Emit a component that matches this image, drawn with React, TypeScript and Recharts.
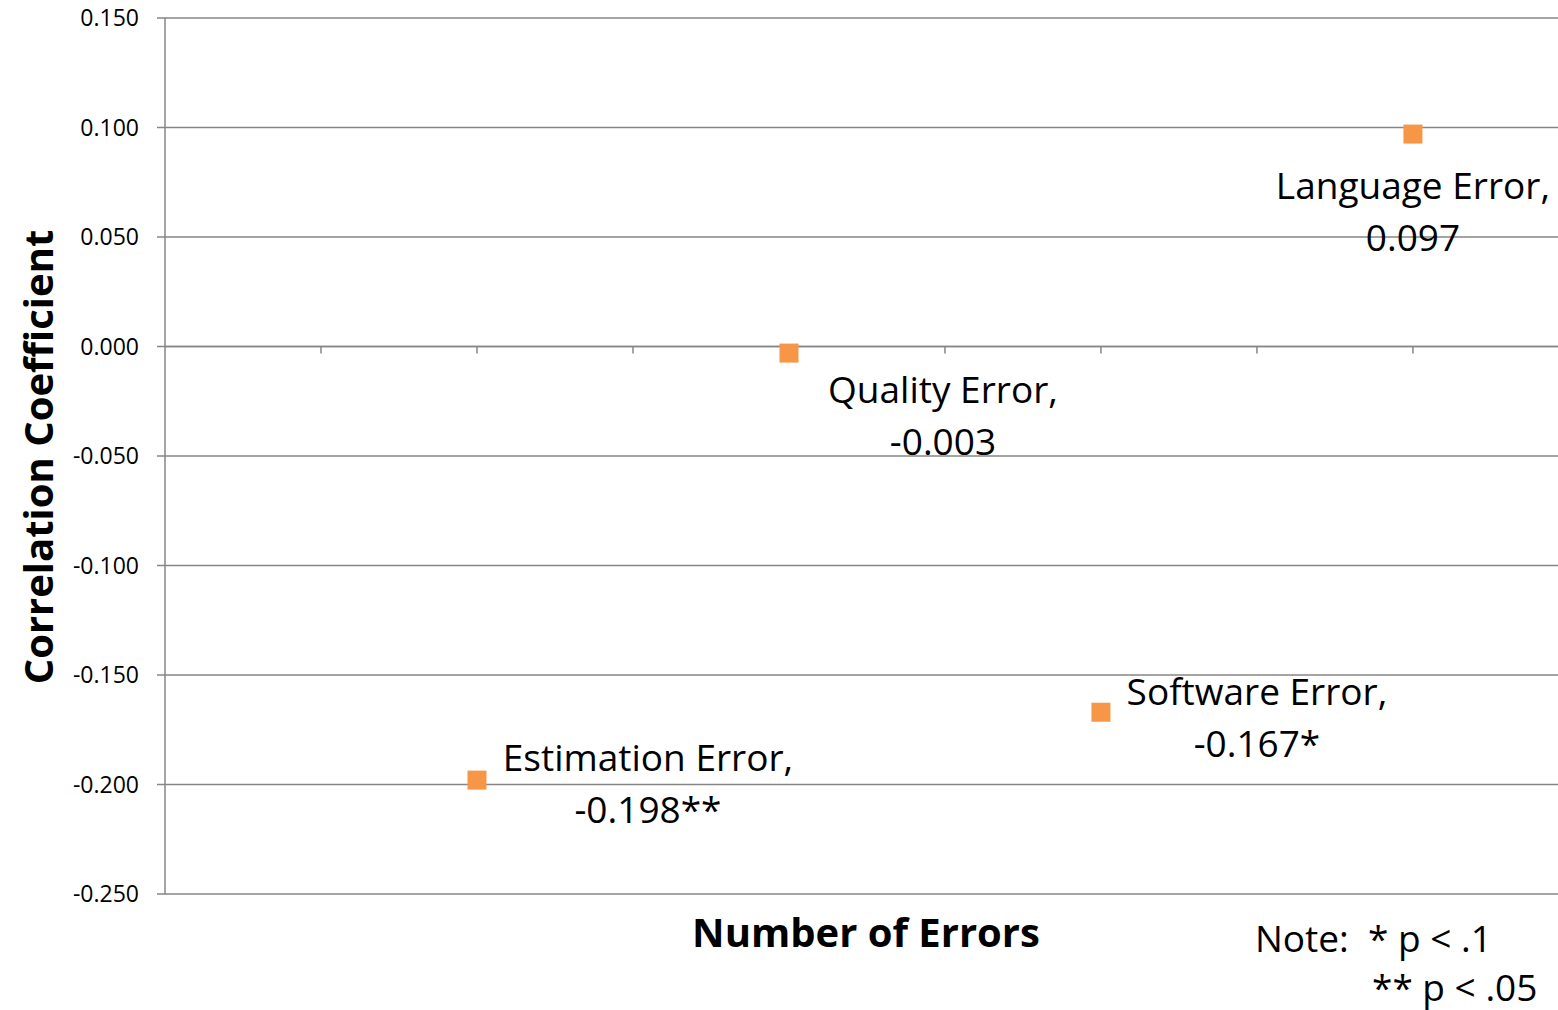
import { ScatterChart, Scatter, XAxis, YAxis, CartesianGrid, ReferenceLine } from "recharts";

const categories = ["Estimation Error", "Quality Error", "Software Error", "Language Error"];
const xPositions = [2, 4, 6, 8];
const coefficients = [-0.198, -0.003, -0.167, 0.097];
const significance = ["**", "", "*", ""];
const yTicks = [-0.25, -0.2, -0.15, -0.1, -0.05, 0, 0.05, 0.1, 0.15];
const xTickMarks = [1, 2, 3, 4, 5, 6, 7, 8];

// label placement relative to each marker (px), like the hand-moved Excel labels
const labelOffsets = [
  { dx: 171, dy: -24 },
  { dx: 154, dy: 35 },
  { dx: 156, dy: -22 },
  { dx: 0, dy: 50 },
];

const points = categories.map((name, i) => ({
  idx: i,
  name,
  x: xPositions[i],
  y: coefficients[i],
  label: coefficients[i].toFixed(3) + significance[i],
}));

const FONT = "'Open Sans', 'Noto Sans', sans-serif";
const GRID = "#868686";
const ORANGE = "#F79646";

function Marker(props: any) {
  const { cx, cy, payload } = props;
  const off = labelOffsets[payload.idx];
  const lx = cx + off.dx;
  const ly = cy + off.dy;
  return (
    <g>
      <rect x={cx - 9.5} y={cy - 9.5} width={19} height={19} fill={ORANGE} />
      <text x={lx} y={ly} textAnchor="middle" dominantBaseline="central" fontSize={37} fontFamily={FONT} fill="#000">
        {payload.name + ","}
      </text>
      <text x={lx} y={ly + 52} textAnchor="middle" dominantBaseline="central" fontSize={37} fontFamily={FONT} fill="#000">
        {payload.label}
      </text>
    </g>
  );
}

export default function App() {
  return (
    <div style={{ position: "absolute", left: 0, top: 0, width: 1558, height: 1010, background: "#fff" }}>
      <ScatterChart width={1558} height={1010} margin={{ top: 18, right: 0, bottom: 116, left: 0 }}>
        <CartesianGrid vertical={false} stroke={GRID} strokeWidth={1.5} />
        <XAxis type="number" dataKey="x" domain={[0, 8.93]} hide />
        <YAxis
          type="number"
          dataKey="y"
          domain={[-0.25, 0.15]}
          ticks={yTicks}
          width={165}
          stroke={GRID}
          strokeWidth={1.5}
          tickSize={8}
          tickMargin={18}
          tickFormatter={(v: number) => v.toFixed(3)}
          tick={{ fill: "#000", fontSize: 23, fontFamily: FONT }}
        />
        <ReferenceLine y={0} stroke={GRID} strokeWidth={1.5} />
        {xTickMarks.map((t) => (
          <ReferenceLine
            key={t}
            segment={[{ x: t, y: 0 }, { x: t, y: 0 }]}
            shape={(p: any) => <line x1={p.x1} y1={p.y1} x2={p.x1} y2={p.y1 + 7} stroke={GRID} strokeWidth={1.5} />}
          />
        ))}
        <Scatter data={points} shape={<Marker />} isAnimationActive={false} />
      </ScatterChart>
      <svg width={1558} height={1010} style={{ position: "absolute", left: 0, top: 0, pointerEvents: "none" }}>
        <text
          transform="translate(37,457) rotate(-90)"
          textAnchor="middle"
          dominantBaseline="central"
          fontSize={40}
          fontWeight="bold"
          fontFamily={FONT}
        >
          Correlation Coefficient
        </text>
        <text x={866} y={931} textAnchor="middle" dominantBaseline="central" fontSize={40} fontWeight="bold" fontFamily={FONT}>
          Number of Errors
        </text>
        <text x={1255} y={937} dominantBaseline="central" fontSize={37} fontFamily={FONT} style={{ whiteSpace: "pre" }}>
          {"Note:  * p < .1"}
        </text>
        <text x={1372} y={986} dominantBaseline="central" fontSize={37} fontFamily={FONT}>
          {"** p < .05"}
        </text>
      </svg>
    </div>
  );
}
